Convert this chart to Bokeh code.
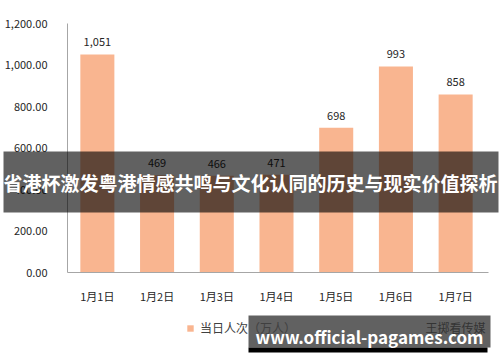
from bokeh.plotting import figure
from bokeh.models import (ColumnDataSource, NumeralTickFormatter, BoxAnnotation, Label,
                          LabelSet, Legend, LegendItem, FixedTicker, Range1d)
from bokeh.core.properties import value
from bokeh.embed import file_html
from bokeh.resources import INLINE

categories = ["1月1日", "1月2日", "1月3日", "1月4日", "1月5日", "1月6日", "1月7日"]
visitors = [1051, 469, 466, 471, 698, 993, 858]
value_labels = ["1,051", "469", "466", "471", "698", "993", "858"]
y_ticks = [0, 200, 400, 600, 800, 1000, 1200]
series_name = "当日人次（万人）"
banner_title = "省港杯激发粤港情感共鸣与文化认同的历史与现实价值探析"
watermark = "www.official-pagames.com"
logo_text = "王掷看传媒"

FONT = "Noto Sans CJK SC"
BAR = "#F9B590"

W, H = 500, 362
# plot-area geometry in canvas pixels
PX_LEFT, PX_RIGHT, PX_TOP, PX_BOTTOM = 67.0, 485.0, 23.0, 272.0
n = len(categories)
x_per_px = n / (PX_RIGHT - PX_LEFT)
y_per_px = 1200.0 / (PX_BOTTOM - PX_TOP)
x_start = -0.5 - PX_LEFT * x_per_px
x_end = -0.5 + (W - PX_LEFT) * x_per_px
y_start = -(H - PX_BOTTOM) * y_per_px
y_end = 1200 + PX_TOP * y_per_px

idx = list(range(n))
src = ColumnDataSource(dict(x=idx, v=visitors, lab=value_labels, cat=categories))

p = figure(width=W, height=H, x_range=Range1d(x_start, x_end), y_range=Range1d(y_start, y_end),
           output_backend="svg", toolbar_location=None,
           min_border=0, min_border_left=0, min_border_right=0,
           min_border_top=0, min_border_bottom=0)
p.outline_line_color = None
p.background_fill_color = "white"
p.border_fill_color = "white"
p.xgrid.grid_line_color = None
p.ygrid.grid_line_color = None

r = p.vbar(x="x", top="v", width=0.57, source=src, fill_color=BAR, line_color=None)

p.add_layout(LabelSet(x="x", y="v", text="lab", source=src, text_align="center",
                      y_offset=8, text_font_size="11px", text_color="#262626",
                      text_font=value(FONT)))

p.yaxis.ticker = FixedTicker(ticks=y_ticks)
p.yaxis.formatter = NumeralTickFormatter(format="0,0.00")
p.yaxis.fixed_location = -0.5
p.yaxis.bounds = (0, 1200)
p.xaxis.ticker = FixedTicker(ticks=idx)
p.xaxis.major_label_overrides = {i: c for i, c in zip(idx, categories)}
p.xaxis.fixed_location = 0
p.xaxis.bounds = (-0.5, n - 0.45)
for ax in (p.xaxis, p.yaxis):
    ax.major_tick_line_color = None
    ax.minor_tick_line_color = None
    ax.axis_line_color = "#a6a6a6"
    ax.major_label_text_font = FONT
    ax.major_label_text_font_size = "11px"
    ax.major_label_text_color = "#262626"
p.yaxis.major_label_standoff = 14
p.xaxis.major_label_standoff = 9

legend = Legend(items=[LegendItem(label=series_name, renderers=[r])],
                location=(186, 26), border_line_color=None, background_fill_alpha=0,
                label_text_font=FONT, label_text_font_size="12px", label_text_color="#404040",
                glyph_width=8, glyph_height=8, padding=0, margin=0, label_standoff=6)
p.add_layout(legend, "center")

# faint logo under the bottom banner
p.add_layout(Label(x=455, y=H - 327, x_units="screen", y_units="screen", text=logo_text,
                   text_align="center", text_baseline="middle", text_color="#8a8a8a",
                   text_font=FONT, text_font_size="12px"))

p.add_layout(BoxAnnotation(left=3, right=498, top=151, bottom=212,
                           left_units="canvas", right_units="canvas",
                           top_units="canvas", bottom_units="canvas",
                           fill_color="black", fill_alpha=0.62, line_color=None))
p.add_layout(Label(x=250, y=H - 182, x_units="screen", y_units="screen", text=banner_title,
                   text_align="center", text_baseline="middle", text_color="white",
                   text_font=FONT, text_font_style="bold", text_font_size="19px"))

p.add_layout(BoxAnnotation(left=248, right=490, top=315, bottom=347,
                           left_units="canvas", right_units="canvas",
                           top_units="canvas", bottom_units="canvas",
                           fill_color="black", fill_alpha=0.62, line_color=None))
p.add_layout(BoxAnnotation(left=248, right=487, top=347, bottom=352,
                           left_units="canvas", right_units="canvas",
                           top_units="canvas", bottom_units="canvas",
                           fill_color="black", fill_alpha=1, line_color=None))
p.add_layout(Label(x=369, y=H - 336, x_units="screen", y_units="screen", text=watermark,
                   text_align="center", text_baseline="middle", text_color="white",
                   text_font=FONT, text_font_style="bold", text_font_size="17px"))

open("out.html", "w").write(file_html(p, INLINE))
